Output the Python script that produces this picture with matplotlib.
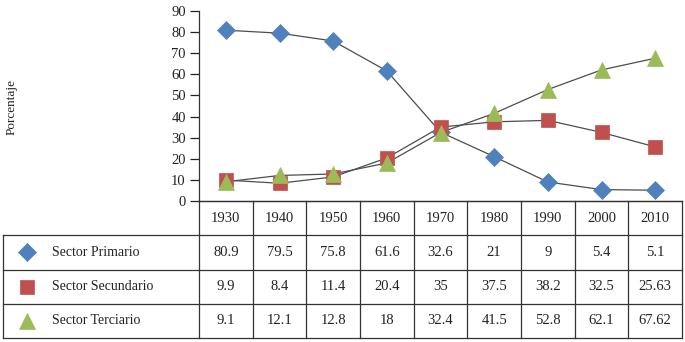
import numpy as np
import matplotlib.pyplot as plt

# ── data ─────────────────────────────────────────────
years = ['1930', '1940', '1950', '1960', '1970', '1980', '1990', '2000', '2010']
primario = [80.9, 79.5, 75.8, 61.6, 32.6, 21, 9, 5.4, 5.1]
secundario = [9.9, 8.4, 11.4, 20.4, 35, 37.5, 38.2, 32.5, 25.63]
terciario = [9.1, 12.1, 12.8, 18, 32.4, 41.5, 52.8, 62.1, 67.62]
series_names = ['Sector Primario', 'Sector Secundario', 'Sector Terciario']
y_ticks = [0, 10, 20, 30, 40, 50, 60, 70, 80, 90]

plt.rcParams['font.family'] = ['Liberation Serif', 'DejaVu Serif']

W, H = 685, 342
fig = plt.figure(figsize=(W / 100, H / 100), dpi=100)

# plot area in pixel terms
x_left, x_right = 199, 682
y_top, y_bot = 11, 201
ax = fig.add_axes([x_left / W, 1 - y_bot / H, (x_right - x_left) / W, (y_bot - y_top) / H])

colors = ['#4F81BD', '#C0504D', '#9BBB59']
markers = ['D', 's', '^']
sizes = [9.5, 10, 11]
data = [primario, secundario, terciario]
xs = np.arange(len(years))

for vals, c, m, ms in zip(data, colors, markers, sizes):
    ax.plot(xs, vals, color='#4d4d4d', lw=0.9, zorder=2)
    ax.plot(xs, vals, ls='none', marker=m, ms=ms, color=c, mec=c, mew=0.5, zorder=3)

ax.set_xlim(-0.5, len(years) - 0.5)
ax.set_ylim(0, 90)
ax.set_yticks(y_ticks)
ax.set_xticks([])
ax.tick_params(axis='y', length=6.5, width=0.9, pad=3, labelsize=10.5, colors='#222222')
for s in ['top', 'right']:
    ax.spines[s].set_visible(False)
ax.spines['left'].set_color('#333333')
ax.spines['bottom'].set_color('#333333')
ax.spines['left'].set_linewidth(0.9)
ax.spines['bottom'].set_linewidth(0.9)

fig.text(12 / W, 1 - 107 / H, 'Porcentaje', rotation=90, ha='center', va='center',
         fontsize=9.5, color='#222222')

# ── data table below the chart ───────────────────────
tx = fig.add_axes([0, 0, 1, 1])
tx.set_xlim(0, W)
tx.set_ylim(H, 0)
tx.axis('off')

row_edges = [201, 235, 269.5, 304, 337.5]
col_w = (x_right - x_left) / len(years)
col_edges = [x_left + i * col_w for i in range(len(years) + 1)]
lc = '#333333'
lw = 0.9

# vertical lines of value columns
for xe in col_edges:
    tx.plot([xe, xe], [row_edges[0], row_edges[-1]], color=lc, lw=lw)
# horizontal lines
tx.plot([x_left, x_right], [row_edges[0], row_edges[0]], color=lc, lw=lw)
for ye in row_edges[1:]:
    tx.plot([3, x_right], [ye, ye], color=lc, lw=lw)
tx.plot([3, 3], [row_edges[1], row_edges[-1]], color=lc, lw=lw)

# header
for i, yr in enumerate(years):
    tx.text(col_edges[i] + col_w / 2, (row_edges[0] + row_edges[1]) / 2, yr,
            ha='center', va='center', fontsize=10.5, color='#222222')

# rows
for r, (name, vals, c, m, ms) in enumerate(zip(series_names, data, colors, markers, sizes)):
    yc = (row_edges[r + 1] + row_edges[r + 2]) / 2
    tx.plot([27], [yc], marker=m, ms=ms, color=c, mec=c, mew=0.5, ls='none')
    tx.text(52, yc, name, ha='left', va='center', fontsize=10, color='#222222')
    for i, v in enumerate(vals):
        tx.text(col_edges[i] + col_w / 2, yc, f'{v:g}', ha='center', va='center',
                fontsize=10.5, color='#222222')

fig.savefig('out.png', dpi=100)
